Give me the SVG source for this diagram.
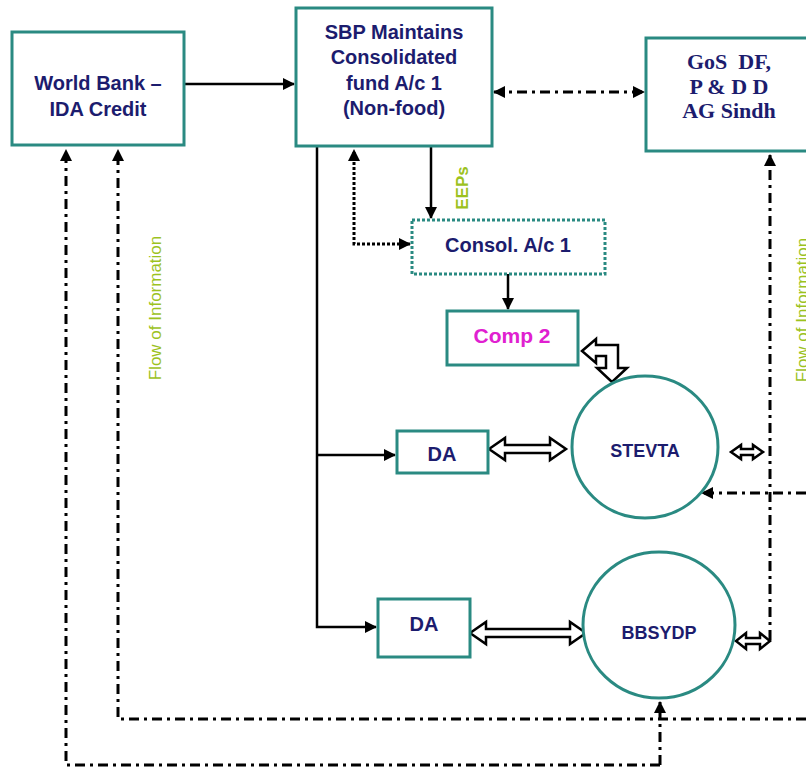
<svg xmlns="http://www.w3.org/2000/svg" width="806" height="773" viewBox="0 0 806 773">
<defs>
<marker id="ah" viewBox="0 0 12 12" refX="11" refY="6" markerWidth="12" markerHeight="12" markerUnits="userSpaceOnUse" orient="auto-start-reverse">
<path d="M0,0 L12,6 L0,12 Z" fill="#000"/>
</marker>
</defs>
<style>
.box{fill:#fff;stroke:#2a8a82;stroke-width:3}
.dbox{fill:#fff;stroke:#2a8a82;stroke-width:3;stroke-dasharray:3 2}
.t{font-family:"Liberation Sans",Arial,sans-serif;font-weight:bold;fill:#1c1c6e;text-anchor:middle}
.ts{font-family:"Liberation Serif","Times New Roman",serif;font-weight:bold;fill:#1c1c6e;text-anchor:middle;font-size:22px}
.g{font-family:"Liberation Sans",Arial,sans-serif;fill:#9cc21e;text-anchor:middle;font-size:17px}
.solid{fill:none;stroke:#000;stroke-width:2.5}
.dd{fill:none;stroke:#000;stroke-width:3;stroke-dasharray:10 5 3 5}
.dot{fill:none;stroke:#000;stroke-width:3;stroke-dasharray:3 2}
.hol{fill:#fff;stroke:#000;stroke-width:2.5;stroke-linejoin:miter}
</style>
<rect width="806" height="773" fill="#fff"/>

<g id="connectors">
<line class="solid" x1="184" y1="84" x2="294" y2="84" marker-end="url(#ah)"/>
<line class="dd" x1="494" y1="92" x2="644" y2="92" marker-start="url(#ah)" marker-end="url(#ah)"/>
<line class="solid" x1="431" y1="146" x2="431" y2="218" marker-end="url(#ah)"/>
<path class="dot" d="M410 244 H354 V150" marker-start="url(#ah)" marker-end="url(#ah)"/>
<line class="solid" x1="508" y1="274" x2="508" y2="309" marker-end="url(#ah)"/>
<path class="solid" d="M317 146 V627 H376" marker-end="url(#ah)"/>
<line class="solid" x1="317" y1="455" x2="395" y2="455" marker-end="url(#ah)"/>
<polygon class="hol" points="489,449 505,438 505,445 550,445 550,438 566,449 550,460 550,453 505,453 505,460"/>
<polygon class="hol" points="470,633 486,622 486,629 570,629 570,622 586,633 570,644 570,637 486,637 486,644"/>
<polygon class="hol" points="731,452 741,445 741,449 753,449 753,445 763,452 753,459 753,455 741,455 741,459"/>
<polygon class="hol" points="736,641 746,633 746,638 760,638 760,633 770,641 760,649 760,644 746,644 746,649"/>
<polygon class="hol" points="582,351 596,339 596,345 618,345 618,368 627,368 612,382 597,368 606,368 606,356 596,356 596,363"/>
<path class="dd" d="M770 640 V155" marker-end="url(#ah)"/>
<line class="dd" x1="806" y1="493" x2="702" y2="493" marker-end="url(#ah)"/>
<path class="dd" d="M806 719 H118 V150" marker-end="url(#ah)"/>
<path class="dd" d="M660 765 H66 V150" marker-end="url(#ah)"/>
<line class="dd" x1="660" y1="765" x2="660" y2="702" marker-end="url(#ah)"/>
</g>

<g id="worldbank">
<rect class="box" x="12" y="32" width="172" height="113"/>
<text class="t" font-size="20" x="98" y="90">World Bank –</text>
<text class="t" font-size="20" x="98" y="116">IDA Credit</text>
</g>

<g id="sbp">
<rect class="box" x="296" y="8" width="196" height="138"/>
<text class="t" font-size="20" x="394" y="39">SBP Maintains</text>
<text class="t" font-size="20" x="394" y="64">Consolidated</text>
<text class="t" font-size="20" x="394" y="90">fund A/c 1</text>
<text class="t" font-size="20" x="394" y="115">(Non-food)</text>
</g>

<g id="gos">
<rect class="box" x="646" y="38" width="170" height="113"/>
<text class="ts" x="729" y="69">GoS&#160; DF,</text>
<text class="ts" x="729" y="94">P &amp; D D</text>
<text class="ts" x="729" y="118">AG Sindh</text>
</g>

<g id="eeps">
<text class="g" font-size="14" font-weight="bold" transform="translate(468,188) rotate(-90)">EEPs</text>
</g>

<g id="consol">
<rect class="dbox" x="412" y="220" width="193" height="54"/>
<text class="t" font-size="20" x="508" y="252">Consol. A/c 1</text>
</g>

<g id="comp2">
<rect class="box" x="447" y="311" width="131" height="54"/>
<text class="t" font-size="21" x="512" y="343" style="fill:#e020d0">Comp 2</text>
</g>

<g id="da1">
<rect class="box" x="397" y="431" width="91" height="42"/>
<text class="t" font-size="20" x="442" y="461">DA</text>
</g>

<g id="da2">
<rect class="box" x="378" y="599" width="92" height="58"/>
<text class="t" font-size="20" x="424" y="631">DA</text>
</g>

<g id="stevta">
<ellipse class="box" cx="645" cy="447" rx="73" ry="71"/>
<text class="t" font-size="18" x="645" y="457">STEVTA</text>
</g>

<g id="bbsydp">
<ellipse class="box" cx="659" cy="625" rx="76" ry="73"/>
<text class="t" font-size="18" x="659" y="639">BBSYDP</text>
</g>

<g id="flow-left">
<text class="g" transform="translate(161,308) rotate(-90)">Flow of Information</text>
</g>
<g id="flow-right">
<text class="g" transform="translate(808,310) rotate(-90)">Flow of Information</text>
</g>
</svg>
